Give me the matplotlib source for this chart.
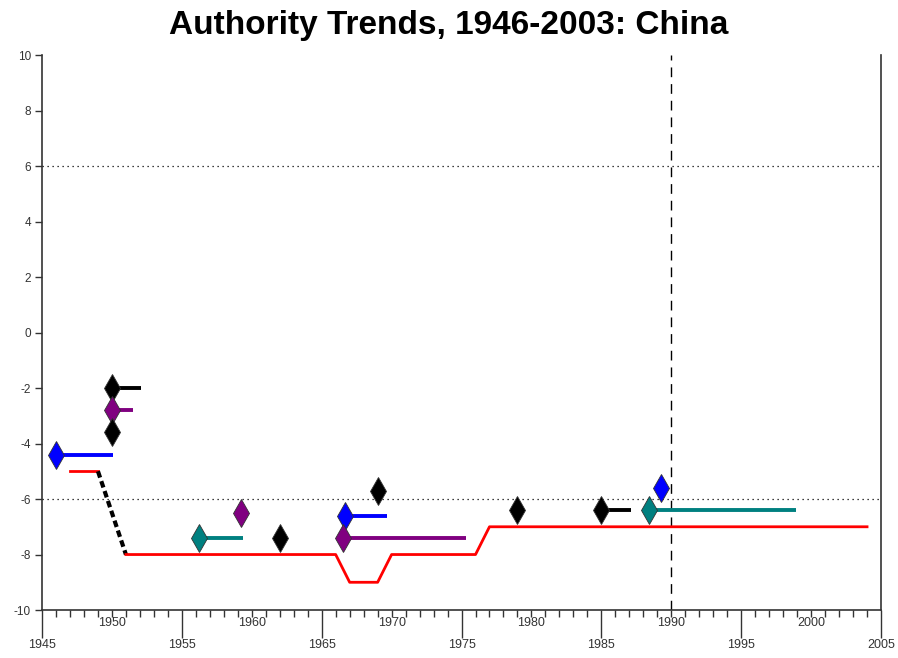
import matplotlib
matplotlib.use("Agg")
import matplotlib.pyplot as plt
import matplotlib.transforms as mtransforms

plt.rcParams['font.family'] = ['Liberation Sans Narrow', 'Liberation Sans', 'DejaVu Sans']
plt.rcParams['axes.unicode_minus'] = False

# regime score by year (red), with the transition period drawn dashed
red_pre_years = [1947, 1949]
red_pre_vals = [-5, -5]
trans_years = [1949, 1951]
trans_vals = [-5, -8]
red_years = [1951, 1966, 1967, 1969, 1970, 1976, 1977, 2004]
red_vals = [-8, -8, -9, -9, -8, -8, -7, -7]

# authority events: start year, end year (None = no trend line), value, colour
ev_start = [1946, 1950, 1950, 1950, 1956.2, 1959.2, 1962, 1966.7, 1966.5, 1969, 1979, 1985, 1988.4, 1989.3]
ev_end = [1950.1, 1952.1, 1951.5, None, 1959.4, None, None, 1969.7, 1975.3, None, None, 1987.1, 1998.9, None]
ev_vals = [-4.4, -2.0, -2.8, -3.6, -7.4, -6.5, -7.4, -6.6, -7.4, -5.7, -6.4, -6.4, -6.4, -5.6]
ev_colors = ['#0000ff', '#000000', '#800080', '#000000', '#008080', '#800080', '#000000',
             '#0000ff', '#800080', '#000000', '#000000', '#000000', '#008080', '#0000ff']

fig = plt.figure(figsize=(8.98, 6.58), dpi=100)
ax = fig.add_axes([0.0468, 0.0729, 0.9343, 0.8435])

ax.set_xlim(1945, 2005)
ax.set_ylim(-10, 10)

# reference lines
ax.axhline(6, color='black', lw=0.9, ls=(0, (1, 3)))
ax.axhline(-6, color='black', lw=0.9, ls=(0, (1, 3)))
ax.axvline(1990, color='black', lw=1.0, ls=(0, (7, 5)))

ax.plot(red_pre_years, red_pre_vals, color='#ff0000', lw=2)
ax.plot(trans_years, trans_vals, color='black', lw=3, ls=(0, (1.6, 0.9)))
ax.plot(red_years, red_vals, color='#ff0000', lw=2)

for x0, x1, v, c in zip(ev_start, ev_end, ev_vals, ev_colors):
    if x1 is not None:
        ax.plot([x0, x1], [v, v], color=c, lw=2.8, solid_capstyle='butt')
    ax.plot([x0], [v], marker='d', ms=14, mew=0.6, mec='#333333', mfc=c,
            linestyle='none')

for s in ['top']:
    ax.spines[s].set_visible(False)
for s in ['left', 'bottom', 'right']:
    ax.spines[s].set_color('#333333')
    ax.spines[s].set_linewidth(1.2)

ax.set_yticks(range(-10, 11, 2))
ax.tick_params(axis='y', length=5, width=1, colors='#333333', labelsize=8.5, pad=3)

ax.set_xticks(range(1945, 2006, 10))
ax.set_xticks(range(1945, 2006, 1), minor=True)
ax.tick_params(axis='x', which='major', length=20, width=1, colors='#333333',
               labelsize=9, pad=1)
ax.tick_params(axis='x', which='minor', length=5, width=1, colors='#333333')

trans = mtransforms.blended_transform_factory(ax.transData, ax.transAxes)
for yr in range(1950, 2001, 10):
    ax.text(yr, -0.012, str(yr), transform=trans, ha='center', va='top',
            fontsize=9, color='#333333')

fig.suptitle('Authority Trends, 1946-2003: China', y=0.985, fontsize=24,
             fontweight='bold', family=['Liberation Sans', 'DejaVu Sans'])

fig.savefig('out.png', dpi=100)
